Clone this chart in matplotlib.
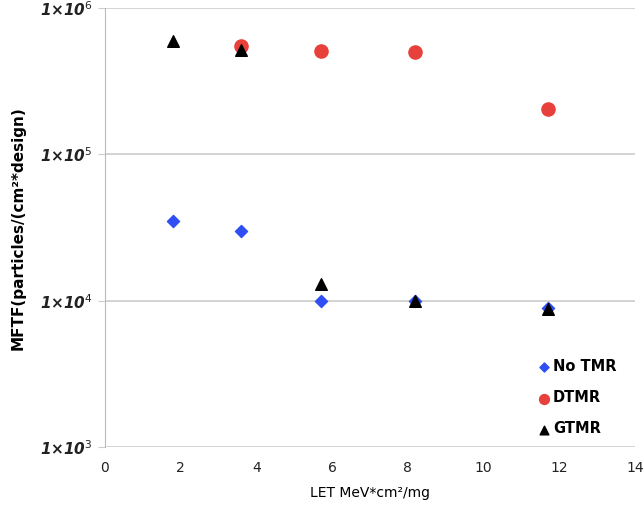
import matplotlib
matplotlib.use('Agg')
import matplotlib.pyplot as plt
from matplotlib.ticker import FixedLocator, NullLocator

# LET values and MFTF per design
let_notmr = [1.8, 3.6, 5.7, 8.2, 11.7]
mftf_notmr = [35000, 30000, 10000, 10000, 9000]

let_dtmr = [3.6, 5.7, 8.2, 11.7]
mftf_dtmr = [550000, 510000, 500000, 205000]

let_gtmr = [1.8, 3.6, 5.7, 8.2, 11.7]
mftf_gtmr = [600000, 520000, 13000, 10000, 8800]

y_ticks = [1e3, 1e4, 1e5, 1e6]
y_labels = ['1×10$^3$', '1×10$^4$', '1×10$^5$', '1×10$^6$']
x_ticks = [0, 2, 4, 6, 8, 10, 12, 14]

fig = plt.figure(figsize=(6.44, 5.07), dpi=100)
ax = fig.add_axes([0.163, 0.118, 0.823, 0.866])

ax.scatter(let_notmr, mftf_notmr, marker='D', s=38, color='#2f4ff5',
           label='No TMR', zorder=3)
ax.scatter(let_dtmr, mftf_dtmr, marker='o', s=90, color='#e8403a',
           label='DTMR', zorder=3)
ax.scatter(let_gtmr, mftf_gtmr, marker='^', s=70, color='black',
           label='GTMR', zorder=4)

ax.set_yscale('log')
ax.set_ylim(1e3, 1e6)
ax.set_xlim(0, 14)
ax.yaxis.set_major_locator(FixedLocator(y_ticks))
ax.yaxis.set_minor_locator(NullLocator())
ax.set_yticklabels(y_labels, fontsize=11, fontweight='bold',
                   fontstyle='italic', color='#222222')
ax.set_xticks(x_ticks)
ax.set_xticklabels([str(t) for t in x_ticks], fontsize=10, color='#222222')

ax.grid(axis='y', color='#cccccc', linewidth=1.2)
ax.set_axisbelow(True)
for side in ['top', 'right', 'bottom']:
    ax.spines[side].set_visible(False)
ax.spines['left'].set_color('#bbbbbb')
ax.tick_params(axis='y', length=5, color='#cccccc', pad=4)
ax.tick_params(axis='x', length=0, pad=10)

ax.set_xlabel('LET MeV*cm²/mg', fontsize=10, labelpad=8)
ax.set_ylabel('MFTF(particles/(cm²*design)', fontsize=11,
              fontweight='bold', labelpad=10)

leg = ax.legend(loc='upper left', bbox_to_anchor=(0.79, 0.23), frameon=False,
                handletextpad=0.1, labelspacing=1.1, fontsize=10.5,
                handlelength=1.0, markerscale=0.75)
for t in leg.get_texts():
    t.set_fontweight('bold')

fig.savefig('out.png', dpi=100)
